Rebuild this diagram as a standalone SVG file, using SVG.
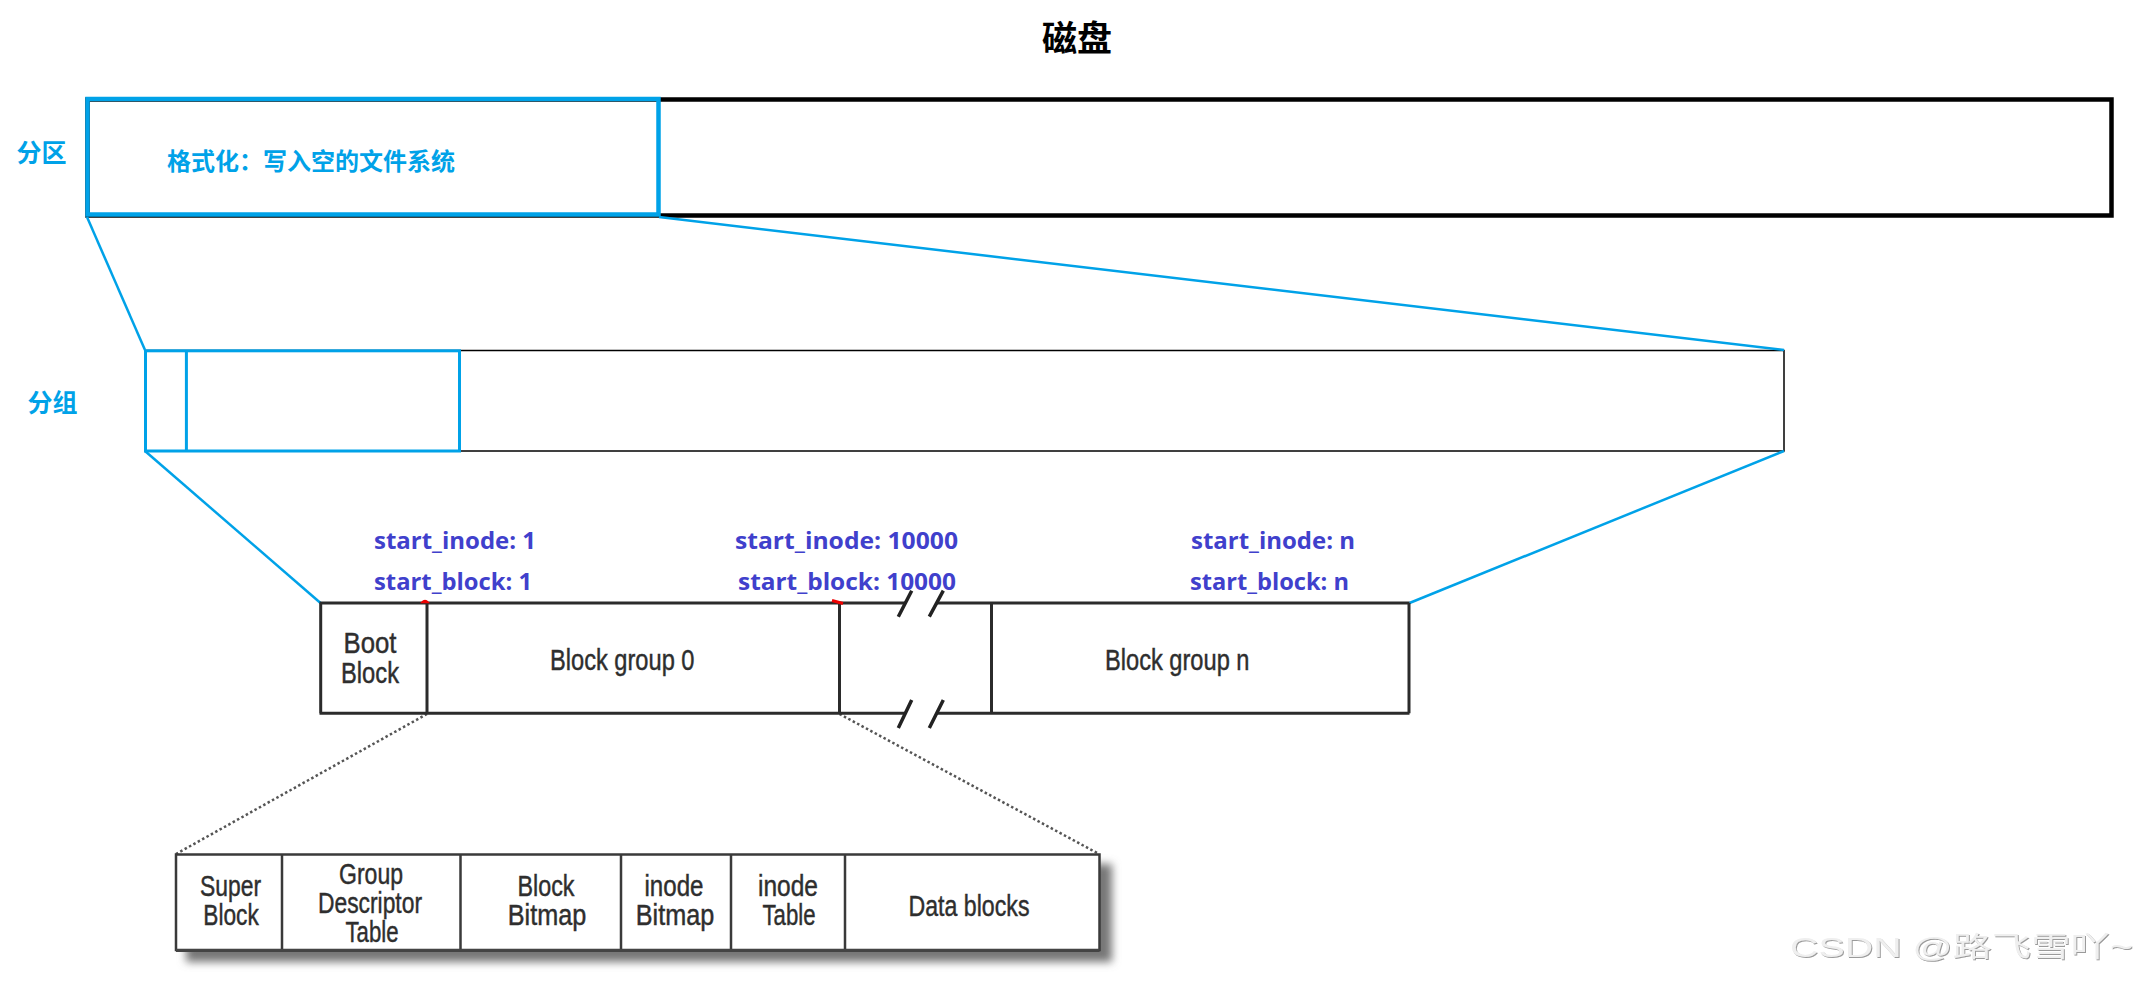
<svg xmlns="http://www.w3.org/2000/svg" width="2138" height="990" viewBox="0 0 2138 990">
<style>
.cjk{font-family:"Noto Sans CJK SC","Noto Sans CJK JP",sans-serif;font-weight:bold}
.blue{fill:#00a2e8}
.lbl{font-family:"Open Sans","Noto Sans",sans-serif;font-weight:bold;font-size:24px;fill:#4040cc}
.img{font-family:"Liberation Sans",Arial,sans-serif;font-size:30px;fill:#2e2e2e;stroke:#2e2e2e;stroke-width:0.45}
.box{fill:none;stroke:#2b2b2b;stroke-width:3}
.tbl{fill:none;stroke:#3a3a3a;stroke-width:2.5}
.bl{fill:none;stroke:#00a2e8}
.dot{fill:none;stroke:#555;stroke-width:2.5;stroke-dasharray:2.5 2.5}
</style>
<defs>
<filter id="shadow" x="-5%" y="-30%" width="110%" height="160%"><feGaussianBlur stdDeviation="4"/></filter>
<filter id="emb" x="-5%" y="-30%" width="110%" height="160%"><feDropShadow dx="1" dy="1" stdDeviation="0.6" flood-color="#9a9a9a"/></filter>
</defs>
<rect width="2138" height="990" fill="#fff"/>

<g id="title"><text class="cjk" x="1077" y="51" font-size="35" text-anchor="middle" fill="#000">磁盘</text></g>

<g id="disk"><rect x="87.5" y="99.5" width="2024" height="116" fill="none" stroke="#000" stroke-width="4.5"/></g>
<g id="partition-label"><text class="cjk blue" x="41.5" y="161.5" font-size="25" text-anchor="middle">分区</text></g>
<g id="partition">
<rect x="87.5" y="99" width="571" height="115.5" fill="none" stroke="#00a2e8" stroke-width="4.5"/>
<text class="cjk blue" x="167" y="170" font-size="24">格式化：写入空的文件系统</text>
</g>

<g id="group-label"><text class="cjk blue" x="52.5" y="411.5" font-size="25" text-anchor="middle">分组</text></g>
<g id="groups-bar">
<rect x="145.5" y="350.5" width="1638.5" height="100.5" fill="none" stroke="#000" stroke-width="1.5"/>
<rect x="145.5" y="350.8" width="314" height="100.2" fill="none" stroke="#00a2e8" stroke-width="3"/>
<line x1="186.4" y1="350.8" x2="186.4" y2="451" stroke="#00a2e8" stroke-width="3"/>
</g>

<g id="connectors">
<line class="bl" stroke-width="2.5" x1="87" y1="217" x2="145" y2="350"/>
<line class="bl" stroke-width="2.5" x1="659" y1="217" x2="1784" y2="350"/>
<line class="bl" stroke-width="2.5" x1="145" y1="451" x2="320.5" y2="603"/>
<line class="bl" stroke-width="2.5" x1="1784" y1="451" x2="1409.5" y2="603"/>
<line class="dot" x1="427" y1="714" x2="176" y2="854"/>
<line class="dot" x1="839.5" y1="714" x2="1099" y2="854"/>
</g>

<g id="labels">
<text class="lbl" x="374" y="549" textLength="162" lengthAdjust="spacingAndGlyphs">start_inode: 1</text>
<text class="lbl" x="374" y="590" textLength="158" lengthAdjust="spacingAndGlyphs">start_block: 1</text>
<text class="lbl" x="735" y="549" textLength="223" lengthAdjust="spacingAndGlyphs">start_inode: 10000</text>
<text class="lbl" x="738" y="590" textLength="218" lengthAdjust="spacingAndGlyphs">start_block: 10000</text>
<text class="lbl" x="1191" y="549" textLength="164" lengthAdjust="spacingAndGlyphs">start_inode: n</text>
<text class="lbl" x="1190" y="590" textLength="159" lengthAdjust="spacingAndGlyphs">start_block: n</text>
</g>

<g id="block-groups">
<path class="box" d="M319.5,603 H905.4 M936.7,603 H1409.5 M319.5,713.3 H905.5 M936.8,713.3 H1409.5 M320.7,603 V713.3 M427,603 V713.3 M839.5,603 V713.3 M991.5,603 V713.3 M1409,603 V713.3"/>
<path d="M911.7,590.7 L898.3,616.7 M943.3,590.7 L929.3,616.7 M911.7,700 L898.3,728 M943.3,700 L929.3,728" fill="none" stroke="#222" stroke-width="3.5"/>
<path d="M421.7,602.5 Q425,598.5 428.3,602.5 Z" fill="#e00" stroke="#e00" stroke-width="1.5"/>
<path d="M832,600.5 L843,603.5" stroke="#e00" stroke-width="3"/>
</g>
<g id="boot-block">
<text class="img" x="370" y="653" textLength="53" lengthAdjust="spacingAndGlyphs" text-anchor="middle">Boot</text>
<text class="img" x="370" y="683" textLength="58" lengthAdjust="spacingAndGlyphs" text-anchor="middle">Block</text>
</g>
<g id="block-group-0"><text class="img" x="550" y="670" textLength="144.5" lengthAdjust="spacingAndGlyphs">Block group 0</text></g>
<g id="block-group-n"><text class="img" x="1105" y="670" textLength="144.5" lengthAdjust="spacingAndGlyphs">Block group n</text></g>

<g id="group-table">
<rect x="186" y="864" width="926" height="98" fill="#777" filter="url(#shadow)"/>
<rect x="176" y="854.5" width="923.5" height="95.5" fill="#fff"/>
<path class="tbl" d="M176,854.5 H1099.5 V950 H176 Z M282,854.5 V950 M460.5,854.5 V950 M621,854.5 V950 M731,854.5 V950 M845,854.5 V950"/>
<line x1="176" y1="950.5" x2="1099.5" y2="950.5" stroke="#444" stroke-width="3"/>
</g>
<g id="super-block">
<text class="img" x="230.5" y="896" textLength="61" lengthAdjust="spacingAndGlyphs" text-anchor="middle">Super</text>
<text class="img" x="231" y="925" textLength="55.5" lengthAdjust="spacingAndGlyphs" text-anchor="middle">Block</text>
</g>
<g id="group-descriptor-table">
<text class="img" x="371" y="884" textLength="64" lengthAdjust="spacingAndGlyphs" text-anchor="middle">Group</text>
<text class="img" x="370" y="913" textLength="104" lengthAdjust="spacingAndGlyphs" text-anchor="middle">Descriptor</text>
<text class="img" x="372" y="942" textLength="53" lengthAdjust="spacingAndGlyphs" text-anchor="middle">Table</text>
</g>
<g id="block-bitmap">
<text class="img" x="546" y="896" textLength="57" lengthAdjust="spacingAndGlyphs" text-anchor="middle">Block</text>
<text class="img" x="547" y="925" textLength="78.5" lengthAdjust="spacingAndGlyphs" text-anchor="middle">Bitmap</text>
</g>
<g id="inode-bitmap">
<text class="img" x="674" y="896" textLength="59" lengthAdjust="spacingAndGlyphs" text-anchor="middle">inode</text>
<text class="img" x="675" y="925" textLength="78.5" lengthAdjust="spacingAndGlyphs" text-anchor="middle">Bitmap</text>
</g>
<g id="inode-table">
<text class="img" x="788" y="896" textLength="60" lengthAdjust="spacingAndGlyphs" text-anchor="middle">inode</text>
<text class="img" x="789" y="925" textLength="53" lengthAdjust="spacingAndGlyphs" text-anchor="middle">Table</text>
</g>
<g id="data-blocks"><text class="img" x="969" y="916" textLength="121" lengthAdjust="spacingAndGlyphs" text-anchor="middle">Data blocks</text></g>

<g id="watermark"><text x="1790" y="957" font-family="'Liberation Sans','Noto Sans CJK SC',sans-serif" font-size="28" fill="#efefef" filter="url(#emb)" textLength="343" lengthAdjust="spacingAndGlyphs">CSDN @路飞雪吖~</text></g>
</svg>
